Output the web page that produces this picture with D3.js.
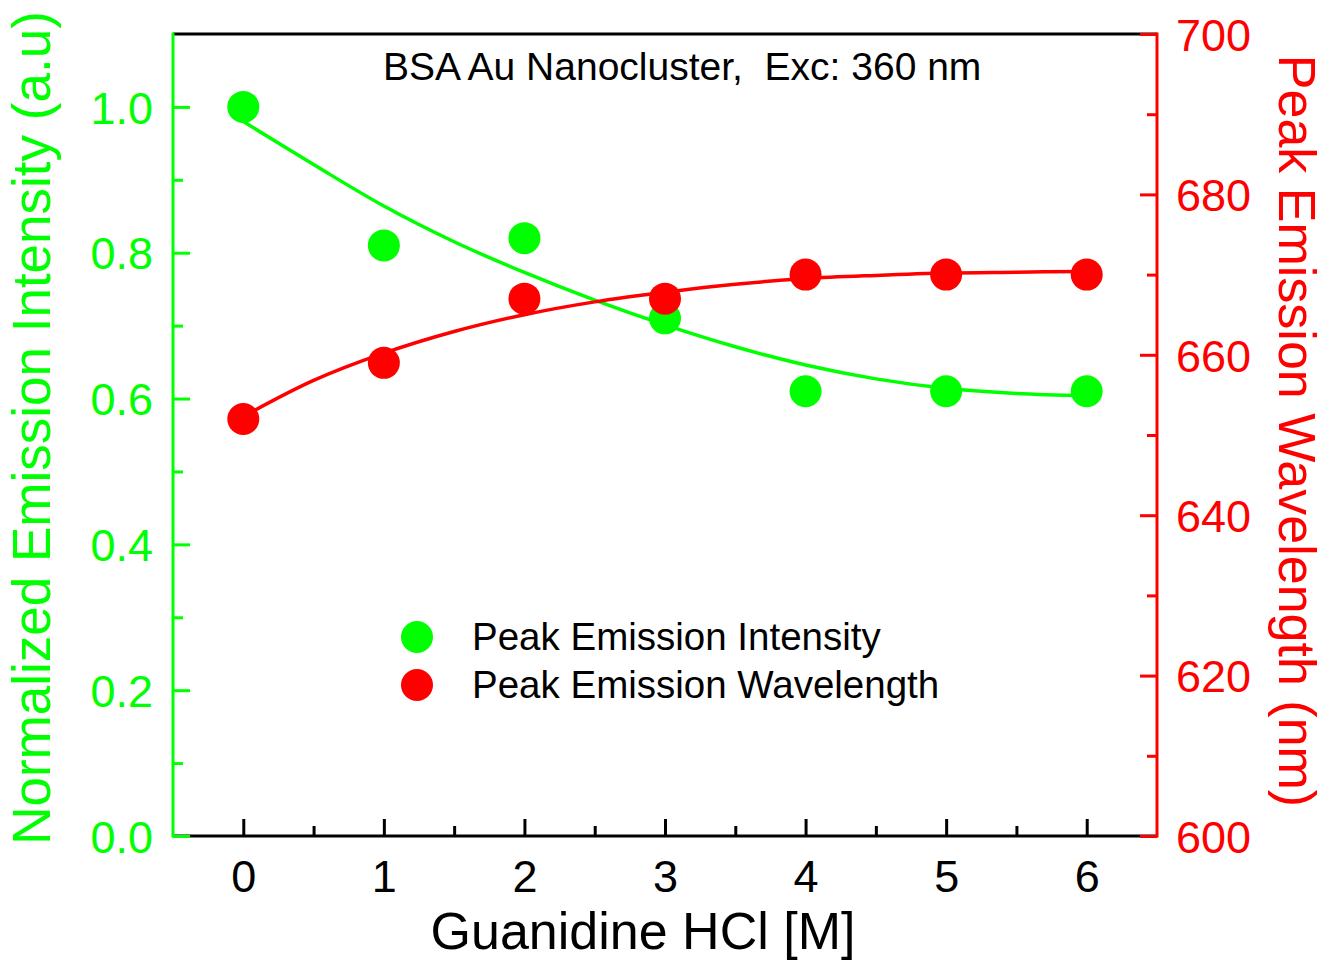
<!DOCTYPE html>
<html>
<head>
<meta charset="utf-8">
<script src="https://cdn.jsdelivr.net/npm/d3@7"></script>
<style>
  html, body { margin: 0; padding: 0; background: #ffffff; }
  svg { display: block; }
  text { font-family: "Liberation Sans", Arial, sans-serif; }
</style>
</head>
<body>
<script>
// Guanidine HCl concentration (M) for each measurement
const concentration = [0, 1, 2, 3, 4, 5, 6];
// Normalized peak emission intensity (left axis)
const intensity = [1.00, 0.81, 0.82, 0.71, 0.61, 0.61, 0.61];
// Peak emission wavelength in nm (right axis)
const wavelength = [652, 659, 667, 667, 670, 670, 670];

// Fitted trend curves, sampled along the concentration axis
const fitX = [0, 0.5, 1, 1.5, 2, 2.5, 3, 3.5, 4, 4.5, 5, 5.5, 6];
const intensityFit = [0.980, 0.921, 0.864, 0.815, 0.773, 0.735, 0.701, 0.671, 0.646, 0.627, 0.614, 0.607, 0.604];
const wavelengthFit = [652.3, 656.8, 660.2, 662.9, 665.0, 666.6, 667.8, 668.8, 669.5, 669.9, 670.2, 670.3, 670.4];

// Axis tick values
const xTicks = [0, 1, 2, 3, 4, 5, 6];
const leftTicks = [0.0, 0.2, 0.4, 0.6, 0.8, 1.0];
const rightTicks = [600, 620, 640, 660, 680, 700];

const legendLabels = ["Peak Emission Intensity", "Peak Emission Wavelength"];
const titleText = "BSA Au Nanocluster,\u00a0 Exc: 360 nm";

const W = 1325, H = 962;
const M = { left: 173, right: 1157, top: 34, bottom: 836 };
const GREEN = "#00ff00", RED = "#ff0000";

const svg = d3.select("body").append("svg").attr("width", W).attr("height", H);
svg.append("rect").attr("width", W).attr("height", H).attr("fill", "#fff");

const x = d3.scaleLinear().domain([-0.5, 6.5]).range([M.left, M.right]);
const yL = d3.scaleLinear().domain([0, 1.1]).range([M.bottom, M.top]);
const yR = d3.scaleLinear().domain([600, 700]).range([M.bottom, M.top]);

// Top frame line
svg.append("line").attr("x1", M.left).attr("x2", M.right).attr("y1", M.top).attr("y2", M.top)
  .attr("stroke", "#000").attr("stroke-width", 3);

// Bottom axis: major ticks inward with labels, minor ticks at half steps
const xAxis = svg.append("g").attr("transform", `translate(0,${M.bottom})`)
  .call(d3.axisTop(x).tickValues(xTicks).tickSize(17).tickFormat(d3.format("d")));
xAxis.select(".domain").remove();
xAxis.selectAll(".tick line").attr("stroke", "#000").attr("stroke-width", 3);
xAxis.selectAll(".tick text").attr("y", 56).attr("dy", 0).attr("fill", "#000")
  .attr("font-size", 45).attr("text-anchor", "middle");
const xMinor = svg.append("g").attr("transform", `translate(0,${M.bottom})`)
  .call(d3.axisTop(x).tickValues(d3.range(0.5, 6, 1)).tickSize(10).tickFormat(""));
xMinor.select(".domain").remove();
xMinor.selectAll(".tick line").attr("stroke", "#000").attr("stroke-width", 3);
svg.append("line").attr("x1", M.left).attr("x2", M.right).attr("y1", M.bottom).attr("y2", M.bottom)
  .attr("stroke", "#000").attr("stroke-width", 3);

// Left axis (intensity)
const left = svg.append("g").attr("transform", `translate(${M.left},0)`)
  .call(d3.axisRight(yL).tickValues(leftTicks).tickSize(17).tickFormat(d3.format(".1f")));
left.select(".domain").remove();
left.selectAll(".tick line").attr("stroke", GREEN).attr("stroke-width", 3);
left.selectAll(".tick text").attr("x", -20).attr("dy", "0.36em").attr("text-anchor", "end")
  .attr("fill", GREEN).attr("font-size", 45);
const leftMinor = svg.append("g").attr("transform", `translate(${M.left},0)`)
  .call(d3.axisRight(yL).tickValues(d3.range(0.1, 1.0, 0.2)).tickSize(10).tickFormat(""));
leftMinor.select(".domain").remove();
leftMinor.selectAll(".tick line").attr("stroke", GREEN).attr("stroke-width", 3);
svg.append("line").attr("x1", M.left).attr("x2", M.left).attr("y1", M.top - 1.5).attr("y2", M.bottom + 1.5)
  .attr("stroke", GREEN).attr("stroke-width", 3);

// Right axis (wavelength)
const right = svg.append("g").attr("transform", `translate(${M.right},0)`)
  .call(d3.axisLeft(yR).tickValues(rightTicks).tickSize(17).tickFormat(d3.format("d")));
right.select(".domain").remove();
right.selectAll(".tick line").attr("stroke", RED).attr("stroke-width", 3);
right.selectAll(".tick text").attr("x", 19).attr("dy", "0.36em").attr("text-anchor", "start")
  .attr("fill", RED).attr("font-size", 45);
const rightMinor = svg.append("g").attr("transform", `translate(${M.right},0)`)
  .call(d3.axisLeft(yR).tickValues(d3.range(610, 700, 20)).tickSize(10).tickFormat(""));
rightMinor.select(".domain").remove();
rightMinor.selectAll(".tick line").attr("stroke", RED).attr("stroke-width", 3);
svg.append("line").attr("x1", M.right).attr("x2", M.right).attr("y1", M.top - 1.5).attr("y2", M.bottom + 1.5)
  .attr("stroke", RED).attr("stroke-width", 3);

// Fitted curves
const greenLine = d3.line().x((d, i) => x(fitX[i])).y(d => yL(d)).curve(d3.curveCatmullRom.alpha(0.5));
const redLine = d3.line().x((d, i) => x(fitX[i])).y(d => yR(d)).curve(d3.curveCatmullRom.alpha(0.5));
svg.append("path").attr("d", greenLine(intensityFit)).attr("fill", "none")
  .attr("stroke", GREEN).attr("stroke-width", 3.5);
svg.append("path").attr("d", redLine(wavelengthFit)).attr("fill", "none")
  .attr("stroke", RED).attr("stroke-width", 3.5);

// Data points
svg.append("g").selectAll("circle").data(concentration).join("circle")
  .attr("cx", d => x(d)).attr("cy", (d, i) => yL(intensity[i])).attr("r", 16).attr("fill", GREEN);
svg.append("g").selectAll("circle").data(concentration).join("circle")
  .attr("cx", d => x(d)).attr("cy", (d, i) => yR(wavelength[i])).attr("r", 16).attr("fill", RED);

// Title inside the plot
svg.append("text").attr("x", 383).attr("y", 80).attr("font-size", 39).attr("fill", "#000")
  .text(titleText);

// Legend
const legend = svg.append("g");
[GREEN, RED].forEach((c, i) => {
  legend.append("circle").attr("cx", 417).attr("cy", 637 + i * 48).attr("r", 16).attr("fill", c);
  legend.append("text").attr("x", 472).attr("y", 650 + i * 48).attr("font-size", 38.5)
    .attr("fill", "#000").text(legendLabels[i]);
});

// Axis titles
svg.append("text").attr("transform", "translate(50,428) rotate(-90)").attr("text-anchor", "middle")
  .attr("font-size", 53).attr("fill", GREEN).text("Normalized Emission Intensity (a.u)");
svg.append("text").attr("transform", "translate(1279,431) rotate(90)").attr("text-anchor", "middle")
  .attr("font-size", 52).attr("fill", RED).text("Peak Emission Wavelength (nm)");
svg.append("text").attr("x", 643).attr("y", 949).attr("text-anchor", "middle")
  .attr("font-size", 52).attr("fill", "#000").text("Guanidine HCl [M]");
</script>
</body>
</html>
